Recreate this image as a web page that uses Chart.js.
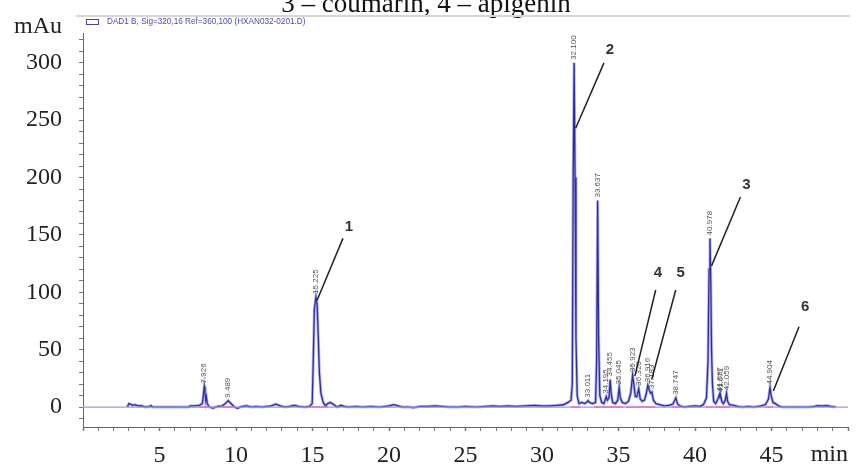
<!DOCTYPE html>
<html><head><meta charset="utf-8">
<script src="https://cdn.jsdelivr.net/npm/chart.js@4.4.1/dist/chart.umd.min.js"></script>
<style>html,body{margin:0;padding:0;background:#fff;overflow:hidden}#wrap{width:861px;height:467px;position:relative}</style>
</head><body><div id="wrap"><canvas id="c" width="861" height="467"></canvas></div>
<script>
// ---- data (retention time in min, absorbance in mAu) ----
const times = [2.9,3.0,3.1,3.25,3.4,3.6,3.8,3.95,4.1,4.35,4.45,4.55,5.0,6.0,6.9,7.0,7.3,7.6,7.8,7.88,7.926,7.97,8.02,8.06,8.12,8.25,8.5,8.8,9.1,9.3,9.489,9.6,9.75,9.9,10.1,10.4,10.7,11.0,11.3,11.7,12.0,12.3,12.6,12.9,13.2,13.5,13.8,14.1,14.5,14.8,14.98,15.05,15.12,15.225,15.3,15.38,15.45,15.55,15.7,15.85,16.0,16.15,16.35,16.6,16.85,17.1,17.4,17.8,18.3,18.8,19.4,20.0,20.3,20.6,20.9,21.3,21.6,22.0,22.5,23.0,23.5,24.0,24.5,25.0,25.7,26.3,26.8,27.2,27.8,28.3,28.9,29.5,30.0,30.5,31.0,31.4,31.7,31.9,31.98,32.04,32.1,32.16,32.22,32.3,32.42,32.6,32.8,32.95,33.011,33.1,33.3,33.5,33.57,33.637,33.7,33.78,33.9,34.05,34.195,34.28,34.38,34.455,34.52,34.62,34.8,34.95,35.045,35.12,35.25,35.45,35.65,35.8,35.923,36.0,36.1,36.2,36.32,36.42,36.55,36.7,36.82,36.916,37.0,37.1,37.183,37.28,37.45,37.7,38.0,38.3,38.55,38.747,38.85,39.0,39.3,39.6,40.0,40.3,40.55,40.75,40.85,40.92,40.978,41.03,41.08,41.14,41.22,41.35,41.5,41.597,41.64,41.671,41.75,41.85,41.98,42.059,42.13,42.25,42.5,42.8,43.1,43.5,43.9,44.3,44.6,44.8,44.904,44.98,45.1,45.25,45.45,45.7,46.2,46.8,47.4,47.8,48.0,48.3,48.6,48.9,49.2];
const signal = [0,3,2.5,1.5,2,1,1.2,0.5,0,0.5,1.2,0,0,0,0,1,1,1.5,3,12,18,13,6,9,3,0,-1,0.5,1,3,5.5,4,2,0,-1,0.5,1,0,0.5,0,0.5,1,2.5,1,0,0.5,1.5,0.5,0,0.5,3,40,85,96,90,60,30,12,4,1,3,4,2.5,0,1.5,0.5,0,0.5,0,0.5,0,1,2,1,0,0,-0.5,0.5,0.5,1,0.5,0,0,0.5,0,0.5,1,0.5,1,0.5,1,1.5,1,1,1.5,2,4,6,20,200,300,200,60,10,3,4,3,4.5,5.5,4,3,4,40,180,60,10,4,3,9,6,8,24,12,4,3,6,17,8,4,3,5,12,28,20,9,9,16,7,5,6,12,19,15,12,13,6,3,2,1,1.5,2.5,8,3,1,0,0.5,1,0.5,2,8,40,120,147,110,50,20,5,3,7,11,8,10,5,3,6,12,5,2,1.5,0.5,0,0.5,0,1,2,7,17,10,4,3,1,0,0,0,0,0.5,1.2,1,1.3,0.5,0];

// labelled peaks (retention time labels)
const peakTimes = [7.926,9.489,15.225,32.1,33.011,33.637,34.195,34.455,35.045,35.923,36.32,36.916,37.183,38.747,40.978,41.597,41.671,42.059,44.904];
const peakLabels = ['7.926','9.489','15.225','32.100','33.011','33.637','34.195','34.455','35.045','35.923','36.320','36.916','37.183','38.747','40.978','41.597','41.671','42.059','44.904'];

// integration baselines (start / end, min)
const integStart = [7.6,9.1,14.9,31.9,33.4,33.9,35.5,38.5,40.7,41.3,44.6];
const integEnd   = [8.2,9.8,16.0,32.5,33.85,35.3,37.4,39.0,41.2,42.3,45.1];

// compound annotations
const annotNumbers = ['1','2','3','4','5','6'];
const annotTipTime  = [15.30,32.20,41.08,36.07,37.17,45.12];
const annotTipValue = [93,243,123,27,24,14];
const annotEndTime  = [16.99,34.05,42.97,37.43,38.74,46.80];
const annotEndValue = [147,300,183,102,102,70];
const annotTextTime = [17.38,34.44,43.36,37.57,39.06,47.20];
const annotTextValue= [157,311,194,117,117,87];

// axis tick labels
const xTickLabels = [5,10,15,20,25,30,35,40,45];
const yTickLabels = [0,50,100,150,200,250,300];

const titleText = '3 \u2013 coumarin, 4 \u2013 apigenin';
const legendText = 'DAD1 B, Sig=320,16 Ref=360,100 (HXAN032-0201.D)';

// ---- build datasets ----
const tracePts = times.map((t,i)=>({x:t,y:signal[i]}));
const integPts = [];
integStart.forEach((s,i)=>{integPts.push({x:s,y:0},{x:integEnd[i],y:0},{x:integEnd[i],y:null});});

const decor = {
  id:'decor',
  afterDraw(chart){
    const ctx = chart.ctx, xs = chart.scales.x, ys = chart.scales.y;
    ctx.save();
    // cut-off caption at top
    ctx.fillStyle = '#111';
    ctx.font = '27px "Liberation Serif"';
    ctx.textAlign = 'center'; ctx.textBaseline = 'alphabetic';
    ctx.fillText(titleText, 426, 12);
    // separator line
    ctx.strokeStyle = '#d6d6d6'; ctx.lineWidth = 2;
    ctx.beginPath(); ctx.moveTo(76,16); ctx.lineTo(850,16); ctx.stroke();
    // legend
    ctx.strokeStyle = '#4444aa'; ctx.lineWidth = 1;
    ctx.strokeRect(86.5,19.5,12,5);
    ctx.fillStyle = '#4a4ab0';
    ctx.font = '8.2px "Liberation Sans"';
    ctx.textAlign = 'left'; ctx.textBaseline = 'middle';
    ctx.fillText(legendText, 107, 22);
    // y unit
    ctx.fillStyle = '#222';
    ctx.font = '24px "Liberation Serif"';
    ctx.textAlign = 'right'; ctx.textBaseline = 'alphabetic';
    ctx.fillText('mAu', 62, 33);
    // peak retention time labels
    ctx.fillStyle = '#555';
    ctx.font = '8px "Liberation Sans"';
    peakTimes.forEach((t,i)=>{
      const v = signal[times.indexOf(t)];
      const px = xs.getPixelForValue(t), py = ys.getPixelForValue(v) - 3;
      ctx.save(); ctx.translate(px,py); ctx.rotate(-Math.PI/2);
      ctx.textAlign = 'left'; ctx.textBaseline = 'middle';
      ctx.fillText(peakLabels[i],0,0);
      ctx.restore();
    });
    // compound annotations
    ctx.strokeStyle = '#222'; ctx.lineWidth = 1.5;
    ctx.fillStyle = '#333';
    ctx.font = 'bold 15px "Liberation Sans"';
    ctx.textAlign = 'center'; ctx.textBaseline = 'middle';
    annotNumbers.forEach((n,i)=>{
      ctx.beginPath();
      ctx.moveTo(xs.getPixelForValue(annotEndTime[i]), ys.getPixelForValue(annotEndValue[i]));
      ctx.lineTo(xs.getPixelForValue(annotTipTime[i]), ys.getPixelForValue(annotTipValue[i]));
      ctx.stroke();
      ctx.fillText(n, xs.getPixelForValue(annotTextTime[i]), ys.getPixelForValue(annotTextValue[i]));
    });
    ctx.restore();
  }
};

new Chart(document.getElementById('c'), {
  type:'line',
  data:{datasets:[
    {data:integPts, borderColor:'#e070d0', borderWidth:1.5, spanGaps:false},
    {data:[{x:0,y:0},{x:50,y:0}], borderColor:'#9a9ae6', borderWidth:1.2},
    {data:tracePts, borderColor:'#2e2e98', borderWidth:1.3},
    {data:tracePts, borderColor:'rgba(150,150,235,0.7)', borderWidth:3}
  ]},
  options:{
    responsive:false, animation:false, devicePixelRatio:1,
    layout:{padding:{top:33,right:11,left:0,bottom:0}},
    elements:{point:{radius:0}, line:{tension:0}},
    plugins:{legend:{display:false}, tooltip:{enabled:false}},
    scales:{
      x:{type:'linear', min:0, max:50,
        afterFit(s){s.height=40;},
        border:{display:true, color:'#666', width:1},
        grid:{display:true, drawOnChartArea:false, drawTicks:true, tickLength:4, color:'#777',
              tickWidth:c=> (c.tick && c.tick.value%5===0)?1.5:1},
        ticks:{stepSize:1, autoSkip:false, maxRotation:0, includeBounds:false, padding:13,
          color:'#222', font:{family:'Liberation Serif', size:24, lineHeight:1},
          callback:v=> xTickLabels.includes(v)? String(v):''},
        title:{display:true, text:'min', align:'end', color:'#222', padding:{top:0,bottom:0},
          font:{family:'Liberation Serif', size:24, lineHeight:1}}
      },
      y:{type:'linear', min:-17.4, max:326,
        afterFit(s){s.width=83;},
        border:{display:true, color:'#666', width:1},
        grid:{display:true, drawOnChartArea:false, drawTicks:true, tickLength:4, color:'#777'},
        ticks:{stepSize:10, autoSkip:false, includeBounds:false, padding:17,
          color:'#222', font:{family:'Liberation Serif', size:24, lineHeight:1},
          callback:v=> yTickLabels.includes(v)? String(v):''}
      }
    }
  },
  plugins:[decor]
});
</script></body></html>
